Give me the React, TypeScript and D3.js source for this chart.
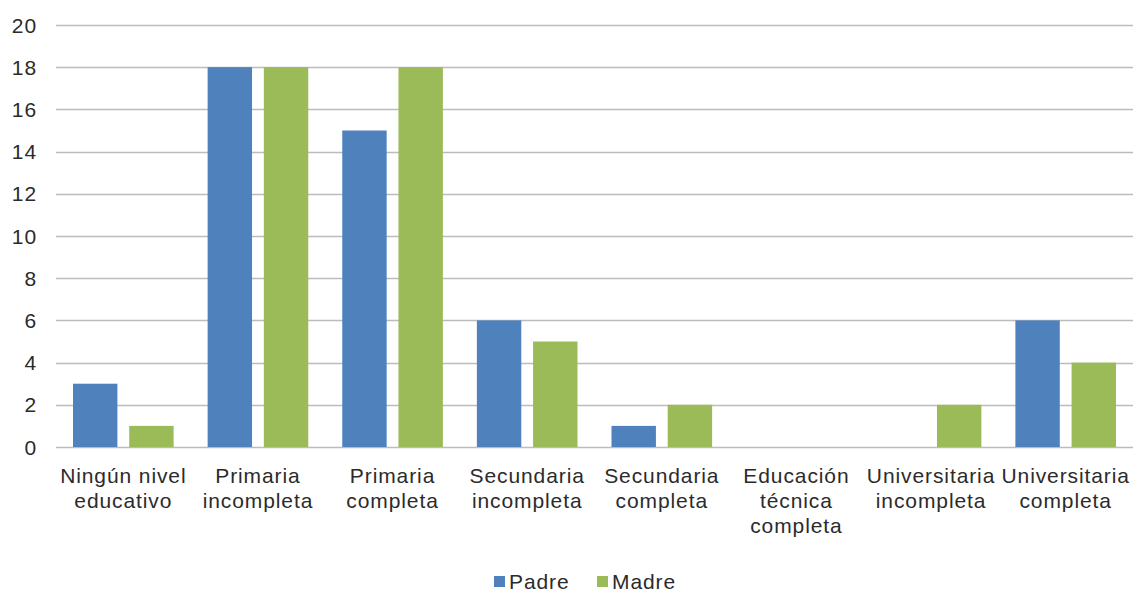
import React, { useRef, useEffect } from 'react';
import * as d3 from 'd3';

const categories = [
  'Ningún nivel|educativo',
  'Primaria|incompleta',
  'Primaria|completa',
  'Secundaria|incompleta',
  'Secundaria|completa',
  'Educación|técnica|completa',
  'Universitaria|incompleta',
  'Universitaria|completa',
];
const seriesNames = ['Padre', 'Madre'];
const padre = [3, 18, 15, 6, 1, 0, 0, 6];
const madre = [1, 18, 18, 5, 2, 0, 2, 4];
const yTicks = [0, 2, 4, 6, 8, 10, 12, 14, 16, 18, 20];
const colors = ['#4f81bd', '#9bbb59'];

const App = () => {
  const svgRef = useRef(null);
  const width = 1136;
  const height = 592;
  const margin = { top: 25, right: 3, bottom: 145, left: 56 };

  useEffect(() => {
    const svg = d3.select(svgRef.current);
    svg.selectAll('*').remove();
    const font = "'Liberation Sans', Arial, sans-serif";
    const fs = 21;
    const ls = 0.9;
    const textColor = '#2b2b2b';

    const x = d3.scaleBand()
      .domain(categories)
      .range([margin.left, width - margin.right])
      .paddingInner(0)
      .paddingOuter(0);
    const inner = d3.scaleBand()
      .domain(seriesNames)
      .range([17, x.bandwidth() - 17])
      .paddingInner(0.21);
    const y = d3.scaleLinear()
      .domain([0, 20])
      .range([height - margin.bottom, margin.top]);

    // gridlines
    svg.append('g')
      .selectAll('line')
      .data(yTicks)
      .enter()
      .append('line')
      .attr('x1', margin.left)
      .attr('x2', width - margin.right)
      .attr('y1', d => Math.round(y(d)) + 0.5)
      .attr('y2', d => Math.round(y(d)) + 0.5)
      .attr('stroke', '#bcbcbc')
      .attr('stroke-width', 1.3);

    // y labels
    svg.append('g')
      .selectAll('text')
      .data(yTicks)
      .enter()
      .append('text')
      .attr('x', 37)
      .attr('y', d => y(d))
      .attr('dy', '0.36em')
      .attr('text-anchor', 'end')
      .attr('font-family', font)
      .attr('font-size', fs)
      .attr('letter-spacing', ls)
      .attr('fill', textColor)
      .text(d => d);

    // bars
    const data = [padre, madre];
    data.forEach((vals, si) => {
      svg.append('g')
        .selectAll('rect')
        .data(vals)
        .enter()
        .append('rect')
        .attr('x', (_, i) => (x(categories[i]) as number) + (inner(seriesNames[si]) as number))
        .attr('y', d => y(d))
        .attr('width', inner.bandwidth())
        .attr('height', d => y(0) - y(d))
        .attr('fill', colors[si]);
    });

    // x labels
    const xl = svg.append('g');
    categories.forEach(c => {
      const cx = (x(c) as number) + x.bandwidth() / 2;
      const t = xl.append('text')
        .attr('text-anchor', 'middle')
        .attr('font-family', font)
        .attr('font-size', fs)
        .attr('letter-spacing', ls)
        .attr('fill', textColor);
      c.split('|').forEach((line, li) => {
        t.append('tspan')
          .attr('x', cx)
          .attr('y', 483 + li * 25)
          .text(line);
      });
    });

    // legend
    const legendX = [494, 597];
    seriesNames.forEach((s, i) => {
      const g = svg.append('g').attr('transform', `translate(${legendX[i]},576)`);
      g.append('rect').attr('width', 11).attr('height', 11).attr('fill', colors[i]);
      g.append('text')
        .attr('x', 15)
        .attr('y', 5.5)
        .attr('dy', '0.36em')
        .attr('font-family', font)
        .attr('font-size', fs)
        .attr('letter-spacing', ls)
        .attr('fill', textColor)
        .text(s);
    });
  }, []);

  return (
    <svg
      ref={svgRef}
      width={width}
      height={height}
      style={{ position: 'absolute', left: 0, top: 0, background: '#fff' }}
    ></svg>
  );
};

export default App;
